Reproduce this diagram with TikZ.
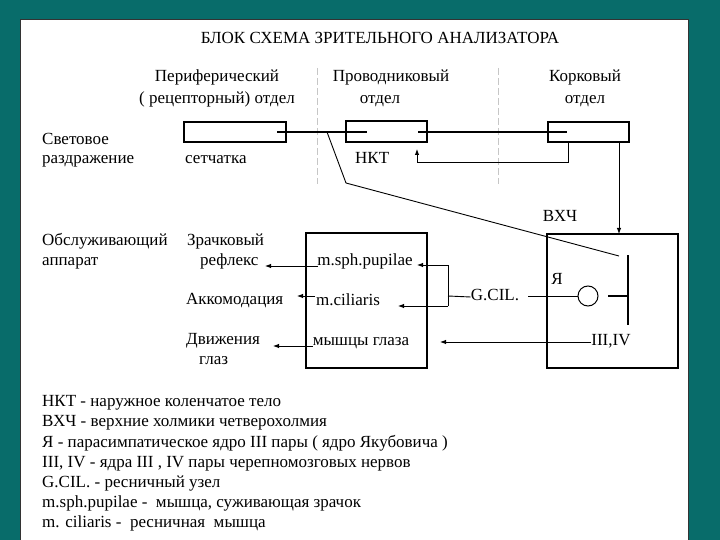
\documentclass[tikz,border=0pt]{standalone}
\usepackage{fontspec}
\setmainfont{Liberation Serif}
\usetikzlibrary{arrows.meta}
\definecolor{teal0}{RGB}{8,108,106}
\begin{document}
\begin{tikzpicture}[x=1pt,y=-1pt,
  every node/.style={inner sep=0pt, font=\fontsize{17}{20}\selectfont, text height=11pt, text depth=4pt},
  lbl/.style={anchor=west},
  box/.style={draw, line width=1.1pt},
  arr/.style={-{Latex[length=6pt,width=4.5pt]}, line width=0.9pt},
  ln/.style={line width=0.9pt},
  thickln/.style={line width=1.8pt},
  divider/.style={gray!45, dash pattern=on 7pt off 3pt, line width=0.7pt}]
\useasboundingbox (0,0) rectangle (720,540);
\fill[teal0] (0,0) rectangle (720,540);
\fill[white] (20,20) rectangle (688,540);
\draw[black!80, line width=1pt] (20,540) -- (20,20) -- (688,20) -- (688,540);

% title and column headings
\node (title) at (380,40) {БЛОК СХЕМА ЗРИТЕЛЬНОГО АНАЛИЗАТОРА};
\node (h1a) at (217,78) {Периферический};
\node (h1b) at (217,100) {( рецепторный) отдел};
\node (h2a) at (391,78) {Проводниковый};
\node (h2b) at (380,100) {отдел};
\node (h3a) at (585,78) {Корковый};
\node (h3b) at (585,100) {отдел};

% dividers
\coordinate (d1t) at (317,68); \coordinate (d1b) at (317,184);
\coordinate (d2t) at (498,68); \coordinate (d2b) at (498,184);
\draw[divider] (d1t) -- (d1b);
\draw[divider] (d2t) -- (d2b);

% top row boxes
\node[box, minimum width=102pt, minimum height=20pt] (ret) at (235,132) {};
\node[box, minimum width=81pt, minimum height=21pt] (nkt) at (386.5,131.5) {};
\node[box, minimum width=81pt, minimum height=20pt] (cor) at (588.5,132) {};

\coordinate (r1) at (277,132); \coordinate (n1) at (367,132);
\coordinate (n2) at (418,132); \coordinate (c1) at (567,132);
\draw[thickln] (r1) -- (n1);
\draw[thickln] (n2) -- (c1);

% left labels
\node[lbl] (sv1) at (42,141) {Световое};
\node[lbl] (sv2) at (42,160) {раздражение};
\node[lbl] (set) at (185,160) {сетчатка};
\node[lbl] (nktl) at (355,160) {НКТ};

% feedback cortex -> NKT
\coordinate (cfb) at (568,142); \coordinate (fbc) at (417,162); \coordinate (nfb) at (417,149);
\draw[arr] (cfb) |- (fbc) -- (nfb);

% lower boxes
\node[box, minimum width=121pt, minimum height=135pt] (eff) at (366.5,300.5) {};
\node[box, minimum width=131pt, minimum height=134pt] (vx) at (612.5,301) {};
\node (vxl) at (560,218) {ВХЧ};

% cortex -> VXCH
\coordinate (cd) at (619,142); \coordinate (vd) at (619,234);
\draw[arr] (cd) -- (vd);

% branch from optic path to VXCH
\coordinate (b0) at (327,132); \coordinate (b1) at (346,183); \coordinate (b2) at (619,256);
\draw[ln] (b0) -- (b1) -- (b2);

% inside VXCH
\coordinate (vt) at (628,255); \coordinate (vb) at (628,325);
\draw[line width=1.1pt] (vt) -- (vb);
\coordinate (hm) at (628,296); \coordinate (hl) at (608,296);
\draw[line width=1.1pt] (hl) -- (hm);
\node[draw, circle, minimum size=20pt, line width=1pt] (yac) at (588,296) {};
\node (ya) at (557,281) {Я};
\node (gcil) at (495,297) {G.CIL.};
\coordinate (gl) at (528,296);
\draw[ln] (gl) -- (yac.west);
\coordinate (bm) at (448,296); \coordinate (bt) at (448,265); \coordinate (bb) at (448,306);
\coordinate (at1) at (417,265); \coordinate (at2) at (398,306);
\draw[ln] (gcil.west) -- (bm);
\draw[ln] (bt) -- (bb);
\draw[arr] (bt) -- (at1);
\draw[arr] (bb) -- (at2);
\node (iii) at (611,342) {III,IV};
\coordinate (a3) at (440,342);
\draw[arr] (iii.west) -- (a3);

% inside effector box
\node (msph) at (365,262) {m.sph.pupilae};
\node (mcil) at (348,302) {m.ciliaris};
\node (mgl) at (361,342) {мышцы глаза};
\coordinate (e1) at (318,266); \coordinate (t1) at (265,266);
\coordinate (e2) at (315,296); \coordinate (t2) at (297,296);
\coordinate (e3) at (313,346); \coordinate (t3) at (273,346);
\draw[arr] (e1) -- (t1);
\draw[arr] (e2) -- (t2);
\draw[arr] (e3) -- (t3);

% service apparatus labels
\node[lbl] (ob1) at (42,242) {Обслуживающий};
\node[lbl] (ob2) at (42,262) {аппарат};
\node[lbl] (zr1) at (187,242) {Зрачковый};
\node[lbl] (zr2) at (200,262) {рефлекс};
\node[lbl] (akk) at (186,301) {Аккомодация};
\node[lbl] (dv1) at (186,341) {Движения};
\node[lbl] (dv2) at (199,361) {глаз};

% legend
\node[lbl] (lg1) at (42,403) {НКТ - наружное коленчатое тело};
\node[lbl] (lg2) at (42,423) {ВХЧ - верхние холмики четверохолмия};
\node[lbl] (lg3) at (42,444) {Я - парасимпатическое ядро III пары ( ядро Якубовича )};
\node[lbl] (lg4) at (42,464) {III, IV - ядра III , IV пары черепномозговых нервов};
\node[lbl] (lg5) at (42,484) {G.CIL. - ресничный узел};
\node[lbl] (lg6) at (42,504) {m.sph.pupilae -\ \ мышца, суживающая зрачок};
\node[lbl] (lg7) at (42,524) {m. ciliaris -\ \ ресничная\ \ мышца};
\end{tikzpicture}
\end{document}
